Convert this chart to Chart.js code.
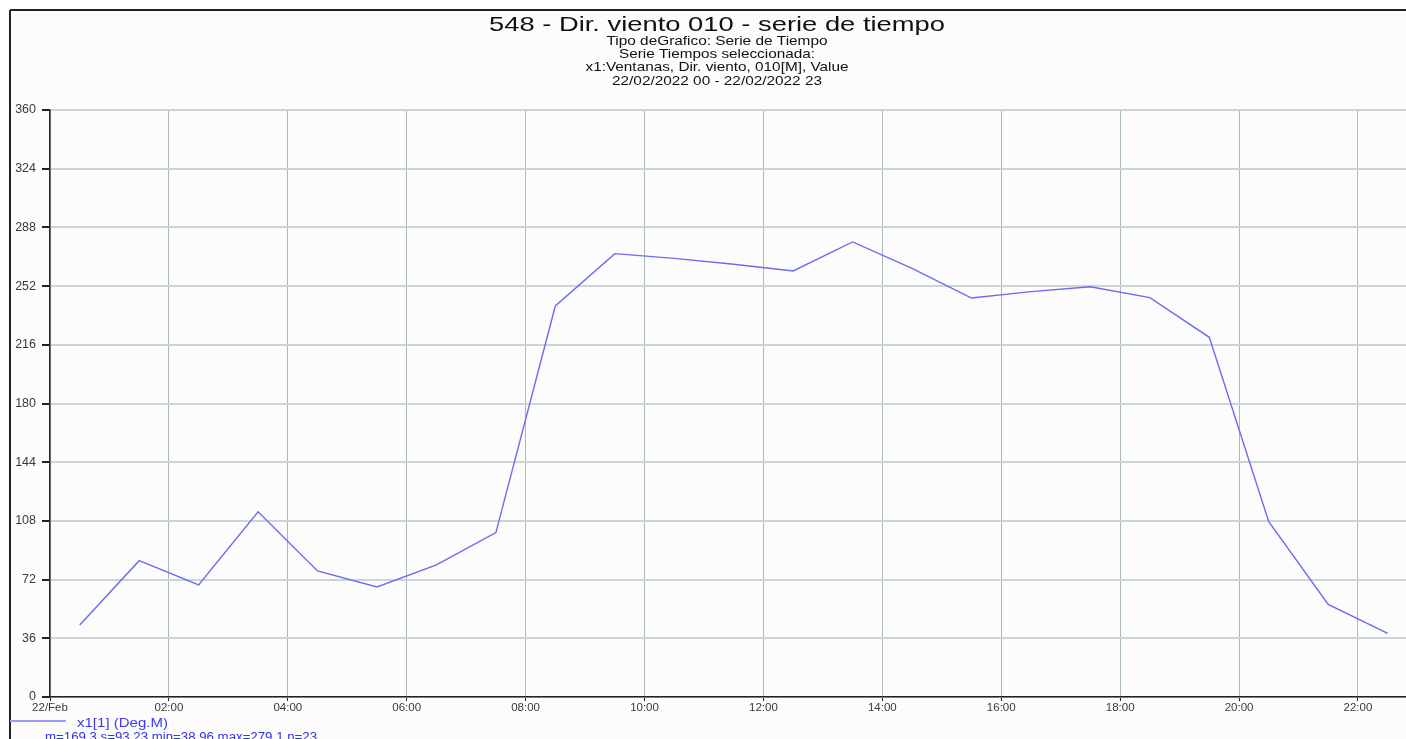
<!DOCTYPE html>
<html>
<head>
<meta charset="utf-8">
<title>548 - Dir. viento 010 - serie de tiempo</title>
<script src="https://cdn.jsdelivr.net/npm/chart.js@4.4.0/dist/chart.umd.min.js"></script>
<style>
html, body { margin: 0; padding: 0; background: #fff; overflow: hidden; }
#chartBox { position: absolute; left: 0; top: 0; width: 1424px; height: 760px; }
</style>
</head>
<body>
<div id="chartBox"><canvas id="graficoSerie" width="1424" height="760"></canvas></div>
<script>
// datos (hora del dia, grados)
const horas = [0.5, 1.5, 2.5, 3.5, 4.5, 5.5, 6.5, 7.5, 8.5, 9.5, 10.5, 11.5,
               12.5, 13.5, 14.5, 15.5, 16.5, 17.5, 18.5, 19.5, 20.5, 21.5, 22.5];
const direccion = [44.2, 83.6, 68.7, 113.6, 77.3, 67.5, 81.0, 100.8, 239.8, 271.9, 269.0, 265.4,
                   261.3, 279.1, 262.9, 244.7, 248.6, 251.6, 244.9, 220.6, 107.5, 56.8, 38.96];

const horasTicks = [0, 2, 4, 6, 8, 10, 12, 14, 16, 18, 20, 22];
const etiquetasX = ['22/Feb', '02:00', '04:00', '06:00', '08:00', '10:00', '12:00',
                    '14:00', '16:00', '18:00', '20:00', '22:00'];
const ticksY = [0, 36, 72, 108, 144, 180, 216, 252, 288, 324, 360];

const titulo = '548 - Dir. viento 010 - serie de tiempo';
const subtitulos = ['Tipo deGrafico: Serie de Tiempo', 'Serie Tiempos seleccionada:',
                    'x1:Ventanas, Dir. viento, 010[M], Value', '22/02/2022 00 - 22/02/2022 23'];
const serieNombre = 'x1[1] (Deg.M)';
const serieResumen = 'm=169.3 s=93.23 min=38.96 max=279.1 n=23';

const FUENTE = '"Liberation Sans", Arial, sans-serif';

// texto estirado horizontalmente hasta un ancho dado (el original viene escalado)
function textoAncho(ctx, txt, x, base, size, ancho, color, align) {
    ctx.save();
    ctx.font = size + 'px ' + FUENTE;
    const w = ctx.measureText(txt).width;
    ctx.translate(x, base);
    ctx.scale(ancho / w, 1);
    ctx.textAlign = align || 'center';
    ctx.textBaseline = 'alphabetic';
    ctx.fillStyle = color;
    ctx.fillText(txt, 0, 0);
    ctx.restore();
}

const fondo = {
    id: 'fondo',
    beforeDraw(chart) {
        const ctx = chart.ctx;
        ctx.save();
        ctx.fillStyle = '#ffffff';
        ctx.fillRect(0, 0, chart.width, chart.height);
        ctx.fillStyle = '#fbfcfb';
        ctx.fillRect(10, 10, chart.width - 10, chart.height - 10);
        ctx.strokeStyle = '#222';
        ctx.lineWidth = 2;
        ctx.beginPath();
        ctx.moveTo(10, 10); ctx.lineTo(chart.width, 10);
        ctx.moveTo(10, 10); ctx.lineTo(10, chart.height);
        ctx.stroke();
        ctx.restore();
    }
};

const textos = {
    id: 'textos',
    afterDraw(chart) {
        const ctx = chart.ctx;
        textoAncho(ctx, titulo, 717, 31.3, 21, 456, '#111');
        const bases = [44.6, 57.9, 71.2, 84.5];
        const anchos = [221, 196, 263, 210];
        subtitulos.forEach((s, i) => textoAncho(ctx, s, 717, bases[i], 13, anchos[i], '#111'));

        // leyenda
        ctx.save();
        ctx.strokeStyle = '#9c9cff';
        ctx.lineWidth = 2;
        ctx.beginPath();
        ctx.moveTo(10, 721); ctx.lineTo(66, 721);
        ctx.stroke();
        ctx.restore();
        textoAncho(ctx, serieNombre, 77, 726.5, 13, 91, '#3c3cf0', 'left');
        textoAncho(ctx, serieResumen, 45, 740.5, 12, 272, '#3232f0', 'left');
    }
};

const ctx = document.getElementById('graficoSerie').getContext('2d');
new Chart(ctx, {
    type: 'line',
    data: {
        datasets: [{
            label: serieNombre,
            data: horas.map((h, i) => ({ x: h, y: direccion[i] })),
            borderColor: 'rgb(108, 108, 240)',
            borderWidth: 1.4,
            pointRadius: 0,
            tension: 0,
            fill: false
        }]
    },
    options: {
        responsive: false,
        animation: false,
        layout: { padding: { top: 110, right: 6.6, bottom: 0, left: 0 } },
        plugins: {
            legend: { display: false },
            title: { display: false },
            tooltip: { enabled: false }
        },
        scales: {
            x: {
                type: 'linear',
                min: 0,
                max: 23,
                afterBuildTicks: s => { s.ticks = horasTicks.map(v => ({ value: v })); },
                afterFit: s => { s.height = 63; },
                ticks: {
                    callback: v => etiquetasX[horasTicks.indexOf(v)] || '',
                    font: { family: FUENTE, size: 11.5 },
                    color: '#3a3a3a',
                    padding: 0,
                    maxRotation: 0,
                    autoSkip: false
                },
                grid: { color: '#a9b8b8', lineWidth: 1, tickLength: 4, tickColor: '#222' },
                border: { color: '#222', width: 1.5 }
            },
            y: {
                min: 0,
                max: 360,
                afterBuildTicks: s => { s.ticks = ticksY.map(v => ({ value: v })); },
                afterFit: s => { s.width = 50; },
                ticks: {
                    font: { family: FUENTE, size: 12.5 },
                    color: '#3a3a3a',
                    padding: 6
                },
                grid: { color: '#cad5d5', lineWidth: 2, tickLength: 8, tickColor: '#222' },
                border: { color: '#222', width: 1.5 }
            }
        }
    },
    plugins: [fondo, textos]
});
</script>
</body>
</html>
